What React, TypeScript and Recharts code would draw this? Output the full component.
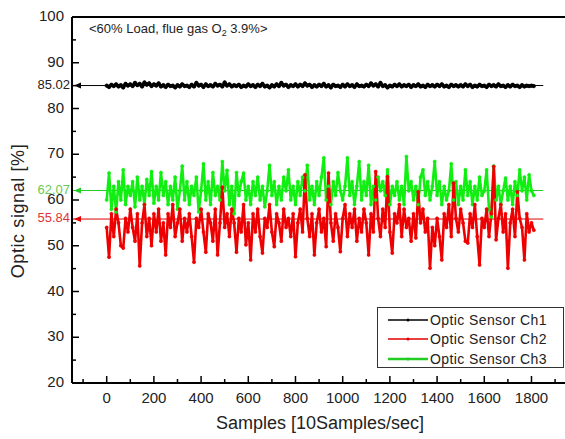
import React from 'react';
import { LineChart, Line, XAxis, YAxis, ReferenceLine, Legend } from 'recharts';

// Samples, one kept every 10 samples (10 Samples/sec)
const ch1 = [
  85.0, 84.7, 85.2, 84.9, 85.3, 84.8, 85.1, 84.6, 85.4, 85.0,
  85.3, 84.9, 85.6, 85.1, 85.4, 84.8, 85.7, 85.2, 85.5, 84.9,
  85.3, 85.0, 85.5, 84.8, 85.1, 84.7, 85.2, 84.9, 85.0, 84.6,
  85.1, 84.8, 85.3, 84.9, 85.0, 84.7, 85.2, 84.8, 85.6, 85.0,
  85.2, 84.7, 85.3, 84.9, 85.1, 84.8, 85.4, 85.0, 85.2, 84.8,
  85.7, 85.0, 85.3, 84.8, 85.1, 84.9, 85.2, 84.7, 85.0, 84.8,
  85.3, 84.9, 85.1, 84.7, 85.2, 84.9, 85.4, 84.8, 85.0, 84.6,
  85.1, 84.8, 85.3, 84.9, 85.6, 85.0, 85.2, 84.7, 85.1, 84.9,
  85.3, 84.8, 85.2, 84.9, 85.5, 85.0, 85.2, 84.7, 85.1, 84.8,
  85.2, 84.9, 85.4, 84.8, 85.1, 84.6, 85.2, 84.9, 85.0, 84.7,
  85.2, 84.8, 85.3, 84.9, 85.1, 84.7, 85.3, 84.9, 85.0, 84.8,
  85.2, 84.9, 85.5, 85.0, 85.3, 84.8, 85.6, 84.9, 85.1, 84.6,
  85.0, 84.8, 85.2, 84.9, 85.3, 84.8, 85.1, 84.9, 85.2, 84.7,
  85.1, 84.9, 85.3, 84.8, 85.0, 84.7, 85.2, 84.9, 85.1, 84.8,
  85.2, 84.9, 85.3, 84.8, 85.0, 84.7, 85.2, 84.9, 85.1, 84.8,
  85.1, 84.8, 85.3, 84.9, 85.2, 84.7, 85.0, 84.8, 85.2, 84.9,
  85.0, 84.7, 85.2, 84.9, 85.1, 84.8, 85.3, 84.9, 85.0, 84.7,
  85.1, 84.8, 85.2, 84.9, 85.0, 84.7, 85.1, 84.8, 85.0, 84.9,
  85.0, 84.9,
];

const ch2 = [
  54, 47.5, 57, 52, 58, 55, 50, 49.5, 56, 53,
  58, 54, 51, 57, 45.6, 55, 59, 52, 56, 50,
  57, 53, 58, 51, 55, 48, 57, 54, 59, 52,
  55, 58, 51, 56, 53, 57, 52, 46.4, 56, 54,
  58, 53, 48.6, 57, 55, 51, 58, 48, 55, 62.8,
  54, 57, 52, 58, 55, 48.6, 56, 53, 59, 50.2,
  55, 46.9, 57, 53, 58, 52, 48.4, 56, 54, 59,
  53, 49.8, 57, 55, 51, 58, 54, 56, 52, 57,
  47.6, 55, 58, 53, 65.5, 56, 52, 57, 48, 55,
  58, 53, 56, 49.8, 65.9, 55, 51, 57, 54, 48.7,
  56, 59, 52, 57, 54, 58, 51, 56, 53, 58,
  55, 48, 57, 53, 66.2, 56, 52, 58, 54, 65.1,
  53, 48.4, 57, 55, 59, 52, 58, 54, 56, 51,
  57, 51.7, 61.8, 55, 58, 53, 56, 45.1, 54, 50,
  56, 52, 46.9, 57, 54, 59, 52, 63.7, 56, 53,
  58, 55, 51, 50.6, 57, 54, 59, 52, 45.8, 56,
  54, 58, 52, 57, 67.3, 51.3, 56, 59, 53, 57,
  45.1, 55, 58, 52, 61.8, 56, 54, 46.9, 57, 53,
  55, 53.4,
];

const ch3 = [
  60, 65.9, 58, 63, 57.4, 64, 60, 66.6, 59, 63,
  61, 64, 58.5, 65, 60, 63, 59, 64.5, 61, 66.2,
  59.3, 63, 60, 66, 61, 64, 59, 63, 60, 65,
  58, 62, 67.4, 60, 64, 59, 63, 61, 65, 57.4,
  62, 67.9, 60, 64, 59, 66, 61, 63, 60, 68.4,
  62, 66.5, 59, 63, 57, 66, 61, 64, 65.9, 60,
  63, 59, 64, 61, 65, 60, 63, 58.5, 62, 67.6,
  61, 64, 59, 63, 60, 65, 62, 66.6, 60, 63,
  59, 64, 61, 65, 62, 67.6, 60, 63, 59, 64,
  61, 65, 69.2, 60, 63, 59, 64, 61, 66, 62,
  60, 63, 69.2, 61, 64, 59, 63, 68.4, 60, 64,
  61, 67.6, 59, 63, 60, 65, 62, 64, 61, 66.6,
  59, 63, 61, 64, 60, 63, 59, 69.5, 62, 64,
  60, 63, 59, 65, 66.6, 61, 64, 60, 63, 68.4,
  61, 64, 59, 63, 60, 62, 67.9, 60, 64, 59,
  63, 60, 66.6, 61, 64, 59, 63, 60, 65, 61,
  62, 66.6, 58, 56.3, 67.4, 60, 63, 59, 62, 64.8,
  60, 63, 59, 64, 61, 66.6, 62, 65, 60, 65.5,
  62, 61,
];

const means = [
  { name: 'Optic Sensor Ch1', value: 85.02, line: '#000000', text: '#222222' },
  { name: 'Optic Sensor Ch2', value: 55.84, line: '#e00000', text: '#e03535' },
  { name: 'Optic Sensor Ch3', value: 62.07, line: '#22cc22', text: '#66cc55' },
];

const xTicks = [-100, 0, 100, 200, 300, 400, 500, 600, 700, 800, 900, 1000, 1100, 1200, 1300, 1400, 1500, 1600, 1700, 1800, 1900];
const yTicks = [20, 25, 30, 35, 40, 45, 50, 55, 60, 65, 70, 75, 80, 85, 90, 95, 100];

const data = ch1.map((v, i) => ({ sample: i * 10, ch1: v, ch2: ch2[i], ch3: ch3[i] }));

const FONT = 'Arial, "Liberation Sans", sans-serif';

const XTick = (props: any) => {
  const { x, y, payload } = props;
  const major = payload.value % 200 === 0;
  return (
    <g>
      <line x1={x} x2={x} y1={y} y2={y - (major ? 7 : 4)} stroke="#000" strokeWidth={1.5} />
      {major && (
        <text x={x} y={y + 20} textAnchor="middle" fontSize={15} fontFamily={FONT} fill="#222">
          {payload.value}
        </text>
      )}
    </g>
  );
};

const YTick = (props: any) => {
  const { x, y, payload } = props;
  const major = payload.value % 10 === 0;
  return (
    <g>
      <line x1={x} x2={x + (major ? 7 : 4)} y1={y} y2={y} stroke="#000" strokeWidth={1.5} />
      {major && (
        <text x={x - 8} y={y} dy={4} textAnchor="end" fontSize={15} fontFamily={FONT} fill="#222">
          {payload.value}
        </text>
      )}
    </g>
  );
};

const meanShape = (m: typeof means[number]) => (props: any) => {
  const { x1, y1, x2, y2 } = props;
  return (
    <g>
      <line x1={x1} y1={y1} x2={x2} y2={y2} stroke={m.line} strokeWidth={1} />
      <polygon points={`${x1 + 2},${y1} ${x1 + 9},${y1 - 3} ${x1 + 9},${y1 + 3}`} fill={m.line} />
      <text x={x1 - 2} y={y1} dy={3} textAnchor="end" fontSize={13} fontFamily={FONT} fill={m.text}>
        {m.value.toFixed(2)}
      </text>
    </g>
  );
};

const LegendBox = () => (
  <div
    style={{
      width: 185,
      height: 59,
      border: '1px solid #333',
      background: '#fff',
      fontFamily: FONT,
      fontSize: 14,
      boxSizing: 'content-box',
    }}
  >
    {means.map((m, i) => (
      <div key={m.name} style={{ display: 'flex', alignItems: 'center', height: 19.5, marginTop: i === 0 ? 2 : 0 }}>
        <svg width={52} height={10}>
          <line x1={10} x2={50} y1={5} y2={5} stroke={m.line} strokeWidth={i === 2 ? 2.5 : 1.5} />
          <circle cx={30} cy={5} r={1.5} fill={m.line} />
        </svg>
        <span style={{ color: '#222', letterSpacing: 0.4 }}>{m.name}</span>
      </div>
    ))}
  </div>
);

export default function App() {
  return (
    <div style={{ position: 'absolute', left: 0, top: 0, width: 565, height: 439, background: '#fff' }}>
      <LineChart width={565} height={439} data={data} margin={{ top: 17, right: 0, bottom: 0, left: 0 }}>
        <XAxis
          dataKey="sample"
          type="number"
          domain={[-147, 1942]}
          allowDataOverflow
          ticks={xTicks}
          interval={0}
          height={56}
          tickSize={0}
          tickMargin={0}
          tickLine={false}
          tick={<XTick />}
          axisLine={{ stroke: '#000', strokeWidth: 2 }}
        />
        <YAxis
          type="number"
          domain={[20, 100]}
          ticks={yTicks}
          interval={0}
          width={72}
          tickSize={0}
          tickMargin={0}
          tickLine={false}
          tick={<YTick />}
          axisLine={{ stroke: '#000', strokeWidth: 2 }}
        />
        <ReferenceLine y={100} stroke="#000" strokeWidth={2} />
        {means.map((m) => (
          <ReferenceLine
            key={m.name}
            segment={[{ x: -147, y: m.value }, { x: 1850, y: m.value }]}
            shape={meanShape(m)}
          />
        ))}
        <Line dataKey="ch1" stroke="#000" strokeWidth={3.4} strokeLinejoin="round" dot={{ r: 1.8, fill: '#000', stroke: '#000', strokeWidth: 0.5 }} isAnimationActive={false} />
        <Line dataKey="ch3" stroke="#11ee11" strokeWidth={2.6} strokeLinejoin="round" dot={{ r: 1.6, fill: '#11ee11', stroke: '#11ee11', strokeWidth: 0.5 }} isAnimationActive={false} />
        <Line dataKey="ch2" stroke="#ee0000" strokeWidth={2.6} strokeLinejoin="round" dot={{ r: 1.6, fill: '#ee0000', stroke: '#ee0000', strokeWidth: 0.5 }} isAnimationActive={false} />
        <Legend
          layout="vertical"
          align="center"
          verticalAlign="middle"
          content={<LegendBox />}
          wrapperStyle={{ left: 377, top: 307, width: 187 }}
        />
      </LineChart>
      <div style={{ position: 'absolute', left: 89, top: 22, fontFamily: FONT, fontSize: 13, color: '#222', whiteSpace: 'nowrap', lineHeight: 1 }}>
        &lt;60% Load, flue gas O<sub style={{ fontSize: 9, verticalAlign: -3 }}>2</sub> 3.9%&gt;
      </div>
      <div style={{ position: 'absolute', left: 0, width: 565, top: 414, textAlign: 'center', paddingLeft: 75, boxSizing: 'border-box', fontFamily: FONT, fontSize: 18, color: '#222', lineHeight: 1 }}>
        Samples [10Samples/sec]
      </div>
      <div
        style={{
          position: 'absolute',
          left: 18,
          top: 211,
          transform: 'translate(-50%, -50%) rotate(-90deg)',
          fontFamily: FONT,
          fontSize: 18,
          color: '#222',
          whiteSpace: 'nowrap',
          lineHeight: 1,
          letterSpacing: 0.6,
        }}
      >
        Optic signal [%]
      </div>
    </div>
  );
}
